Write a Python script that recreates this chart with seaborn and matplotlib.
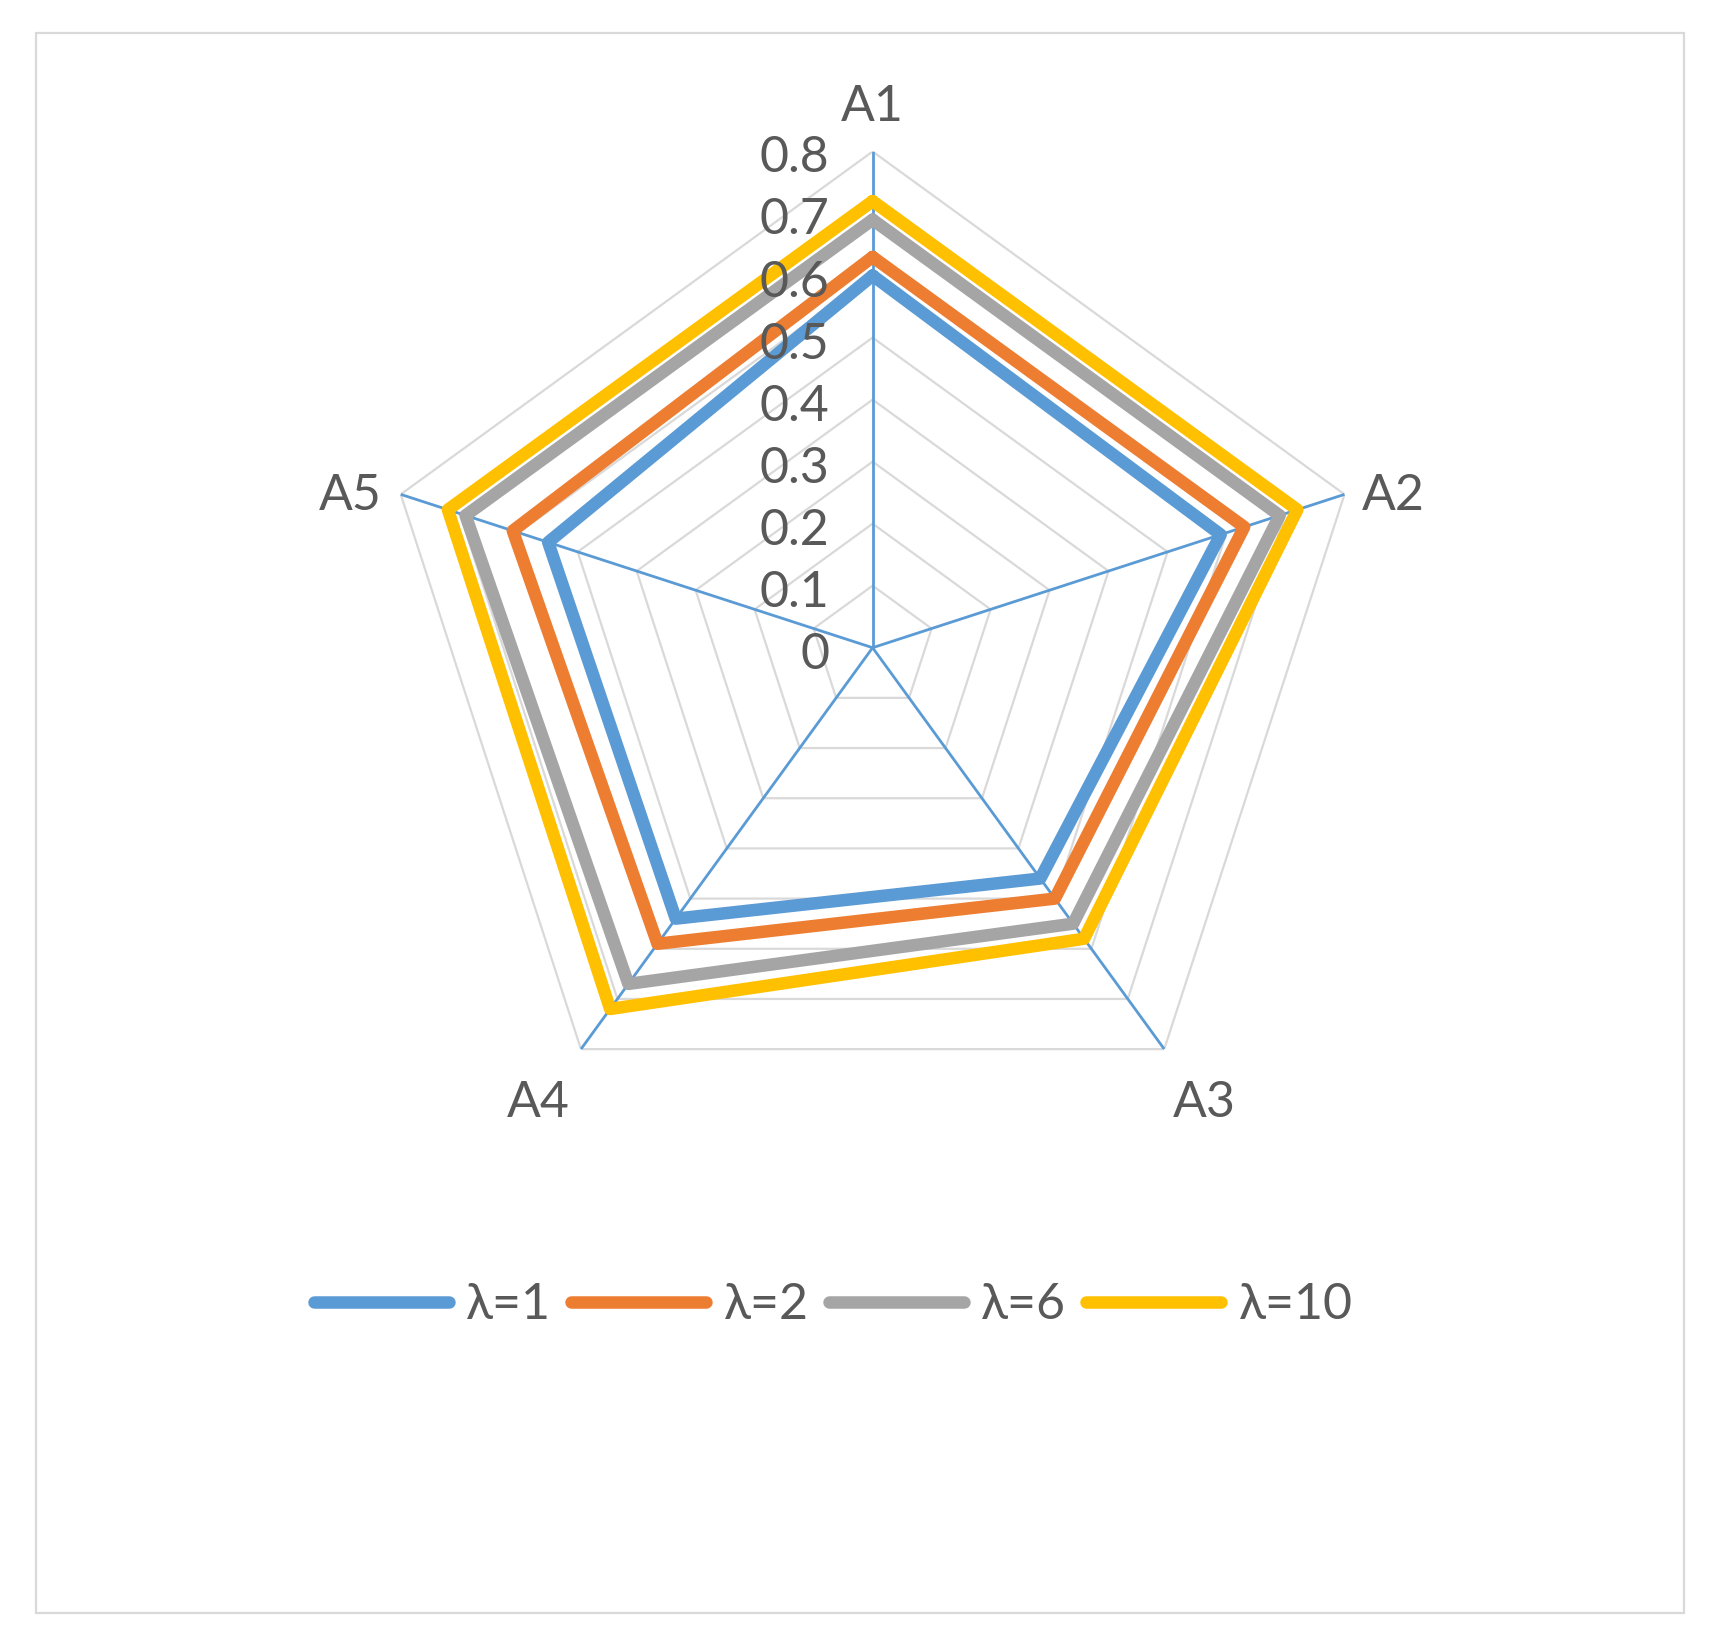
import numpy as np
import pandas as pd
import matplotlib
matplotlib.use('Agg')
import matplotlib.pyplot as plt
import seaborn as sns
from matplotlib.patches import Rectangle

categories = ['A1', 'A2', 'A3', 'A4', 'A5']
series_names = ['λ=1', 'λ=2', 'λ=6', 'λ=10']
lam1 = [0.60, 0.59, 0.46, 0.54, 0.55]
lam2 = [0.63, 0.63, 0.50, 0.59, 0.61]
lam6 = [0.69, 0.69, 0.55, 0.67, 0.69]
lam10 = [0.72, 0.72, 0.58, 0.72, 0.72]
levels = [0, 0.1, 0.2, 0.3, 0.4, 0.5, 0.6, 0.7, 0.8]
level_labels = ['0', '0.1', '0.2', '0.3', '0.4', '0.5', '0.6', '0.7', '0.8']
colors = ['#5b9bd5', '#ed7d31', '#a5a5a5', '#ffc000']

sns.set_style('white')
plt.rcParams['font.family'] = ['Lato', 'DejaVu Sans']
text_color = '#595959'
fs = 36

n = len(categories)
theta = np.linspace(0, 2 * np.pi, n, endpoint=False)
theta_closed = np.append(theta, 2 * np.pi)

rows = []
for name, vals in zip(series_names, [lam1, lam2, lam6, lam10]):
    vals_closed = vals + [vals[0]]
    for t, v in zip(theta_closed, vals_closed):
        rows.append({'series': name, 'theta': t, 'value': v})
df = pd.DataFrame(rows)

fig = plt.figure(figsize=(17.11, 16.46), dpi=100)
fig.patches.append(Rectangle((0.021, 0.02), 0.963, 0.96, transform=fig.transFigure,
                             fill=False, edgecolor='#d9d9d9', linewidth=1.6))

ax = fig.add_axes([0.220, 0.305, 0.580, 0.603], projection='polar')
ax.set_theta_offset(np.pi / 2)
ax.set_theta_direction(-1)
ax.grid(False)
ax.spines['polar'].set_visible(False)

# pentagon grid + spokes (excel style)
for r in levels[1:]:
    ax.plot(theta_closed, [r] * (n + 1), color='#d9d9d9', linewidth=1.6, zorder=1)
for t in theta:
    ax.plot([t, t], [0, levels[-1]], color='#5b9bd5', linewidth=2.0, zorder=2)

sns.lineplot(data=df, x='theta', y='value', hue='series', palette=colors,
             sort=False, estimator=None, linewidth=9, ax=ax, zorder=3)

ax.set_ylim(0, levels[-1])
ax.set_yticks([])
ax.set_xticks([])
ax.set_xlabel('')
ax.set_ylabel('')

# category labels just outside the spoke ends
label_offsets = [(0, 32), (35, -1), (29, -39), (-31, -39), (-36, -1)]
for t, cat, off in zip(theta, categories, label_offsets):
    ax.annotate(cat, xy=(t, levels[-1]), xytext=off, textcoords='offset points',
                ha='center', va='center', fontsize=fs, color=text_color)

for r, lab in zip(levels, level_labels):
    ax.annotate(lab, xy=(0, r), xytext=(-31, -5), textcoords='offset points',
                ha='right', va='center', fontsize=fs, color=text_color, zorder=5)

handles, labels = ax.get_legend_handles_labels()
ax.get_legend().remove()
fig.legend(handles, labels, loc='center', bbox_to_anchor=(0.487, 0.207), ncol=4,
           frameon=False, fontsize=fs, labelcolor=text_color,
           handlelength=2.7, handletextpad=0.35, columnspacing=0.4)

fig.savefig('out.png', dpi=100, facecolor='white')
